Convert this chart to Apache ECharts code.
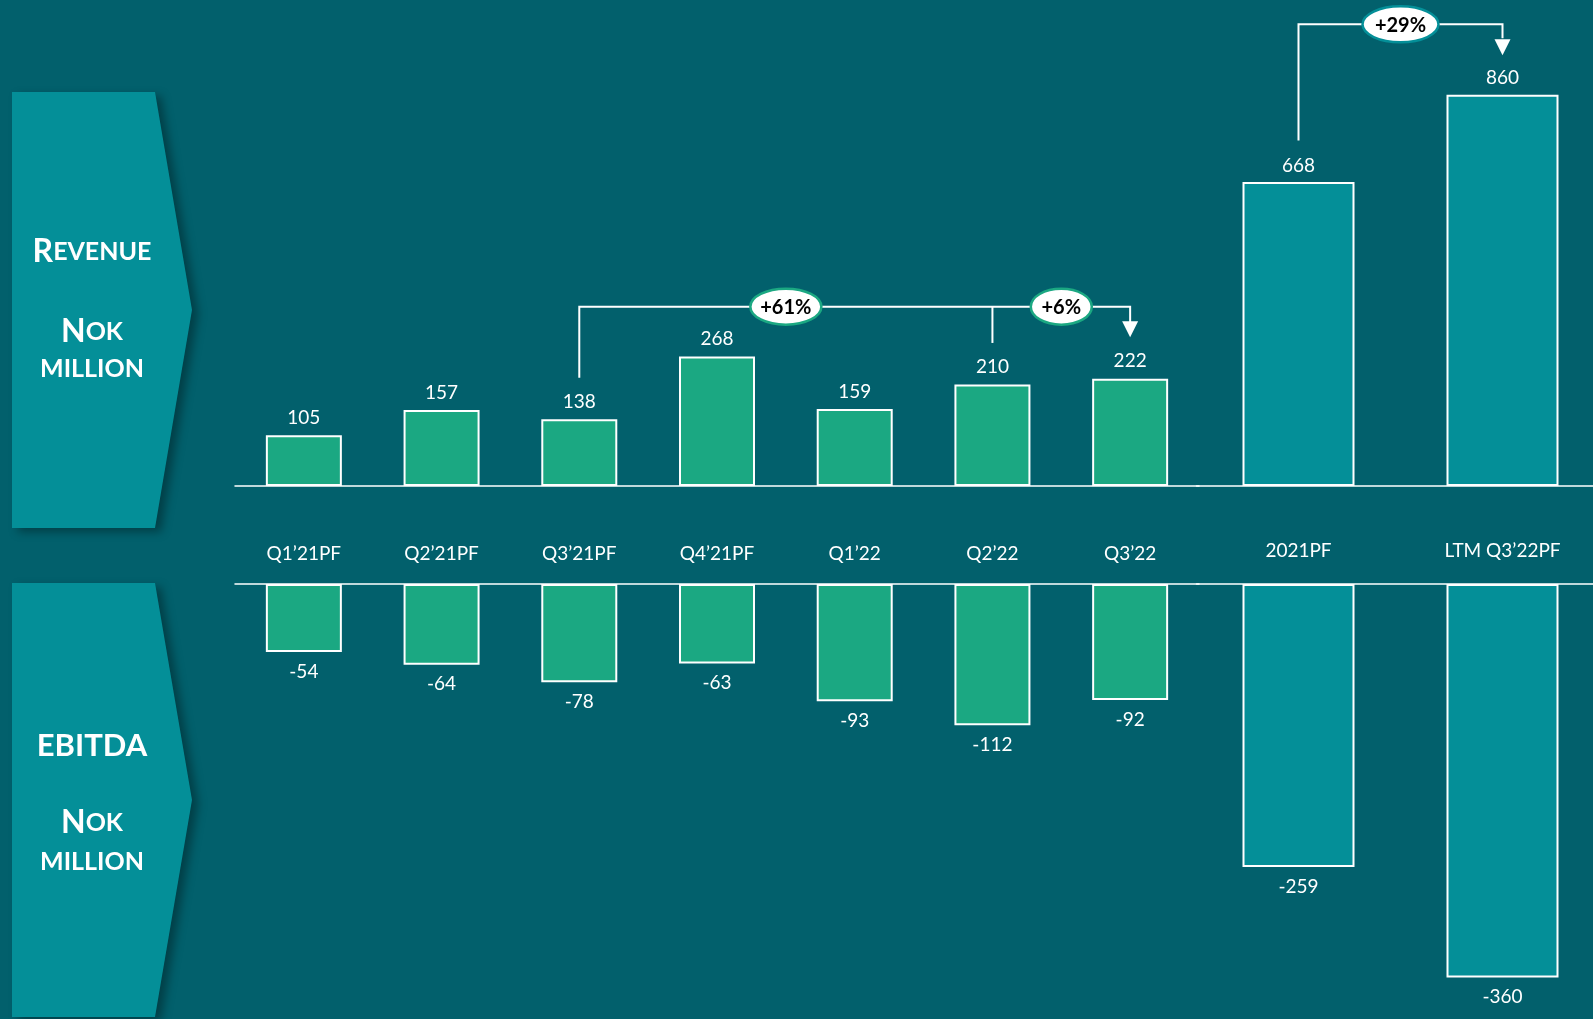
<!DOCTYPE html>
<html>
<head>
<meta charset="utf-8">
<script src="https://cdn.jsdelivr.net/npm/echarts@6/dist/echarts.min.js"></script>
<style>
  html, body { margin: 0; padding: 0; background: #02606c; }
  #main { width: 1593px; height: 1019px; }
</style>
</head>
<body>
<div id="main"></div>
<script type="text/javascript">
// data
var quarters = ['Q1’21PF', 'Q2’21PF', 'Q3’21PF', 'Q4’21PF', 'Q1’22', 'Q2’22', 'Q3’22'];
var years = ['2021PF', 'LTM Q3’22PF'];
var revenueQ = [105, 157, 138, 268, 159, 210, 222];
var revenueY = [668, 860];
var ebitdaQ = [-54, -64, -78, -63, -93, -112, -92];
var ebitdaY = [-259, -360];
var growthLabels = ['+61%', '+6%', '+29%'];

var BG = '#02606c', TEAL = '#048f98', GREEN = '#1ba882', FONT = 'Lato';

var chart = echarts.init(document.getElementById('main'));

function xAx(idx, data, pos, showLabel, margin) {
  return {
    type: 'category', gridIndex: idx, data: data, position: pos,
    axisTick: { show: false },
    axisLine: { onZero: false, lineStyle: { color: '#fff', width: 1.5 } },
    axisLabel: { show: showLabel, margin: margin, color: '#fff', fontFamily: FONT, fontSize: 19 },
    z: 5
  };
}
function yAx(idx, min, max) {
  return { type: 'value', gridIndex: idx, min: min, max: max, show: false, splitLine: { show: false } };
}
function barSeries(idx, data, color, width, pos, dist) {
  return {
    type: 'bar', xAxisIndex: idx, yAxisIndex: idx, data: data, barWidth: width,
    itemStyle: { color: color, borderColor: '#fff', borderWidth: 2 },
    label: { show: true, position: pos, distance: dist, color: '#fff', fontFamily: FONT, fontSize: 19 }
  };
}
function grid(left, top, width, height) {
  return { left: left, top: top, width: width, height: height, outerBoundsMode: 'none', containLabel: false };
}

var option = {
  backgroundColor: BG,
  animation: false,
  grid: [
    grid(235, 0, 964, 486),
    grid(1196.5, 0, 408, 486),
    grid(235, 584, 964, 435),
    grid(1196.5, 584, 408, 435)
  ],
  xAxis: [
    xAx(0, quarters, 'bottom', true, 58),
    xAx(1, years, 'bottom', true, 55),
    xAx(2, quarters, 'top', false, 0),
    xAx(3, years, 'top', false, 0)
  ],
  yAxis: [yAx(0, 0, 1005), yAx(1, 0, 1068), yAx(2, -345, 0), yAx(3, -398, 0)],
  series: [
    barSeries(0, revenueQ, GREEN, 76, 'top', 8),
    barSeries(1, revenueY, TEAL, 112, 'top', 7),
    barSeries(2, ebitdaQ, GREEN, 76, 'bottom', 10),
    barSeries(3, ebitdaY, TEAL, 112, 'bottom', 10)
  ]
};
chart.setOption(option);

// 左侧标题箭头
function panel(top, tip, bottom) {
  return {
    type: 'polygon', z: 1,
    shape: { points: [[12, top], [155, top], [192, tip], [155, bottom], [12, bottom]] },
    style: { fill: TEAL, shadowBlur: 10, shadowOffsetX: 6, shadowOffsetY: 4, shadowColor: 'rgba(0,0,0,0.35)' }
  };
}
function panelText(y, text) {
  return {
    type: 'text', z: 2, x: 92, y: y,
    style: {
      text: text, fill: '#fff', align: 'center', verticalAlign: 'middle',
      rich: {
        b: { fontFamily: FONT, fontWeight: 'bold', fontSize: 32, fill: '#fff', color: '#fff' },
        s: { fontFamily: FONT, fontWeight: 'bold', fontSize: 25, fill: '#fff', color: '#fff' },
        e: { fontFamily: FONT, fontWeight: 'bold', fontSize: 31, fill: '#fff', color: '#fff' }
      }
    }
  };
}

// 增长标注
function px(ax, cat, val) {
  return chart.convertToPixel({ xAxisIndex: ax, yAxisIndex: ax }, [cat, val]);
}
var GAP = 41.5;
function line(points) {
  return { type: 'polyline', z: 10, shape: { points: points }, style: { stroke: '#fff', lineWidth: 2, fill: null } };
}
function arrowHead(x, tipY) {
  return { type: 'polygon', z: 10, shape: { points: [[x - 8, tipY - 16], [x + 8, tipY - 16], [x, tipY]] }, style: { fill: '#fff' } };
}
function bubble(cx, cy, rx, text, stroke) {
  return [
    { type: 'ellipse', z: 11, shape: { cx: cx, cy: cy, rx: rx, ry: 18 }, style: { fill: '#fff', stroke: stroke, lineWidth: 2.5 } },
    { type: 'text', z: 12, x: cx, y: cy + 1, style: { text: text, fill: '#000', font: 'bold 20px Lato', align: 'center', verticalAlign: 'middle' } }
  ];
}

var a = px(0, quarters[2], revenueQ[2]);
var m = px(0, quarters[5], revenueQ[5]);
var b = px(0, quarters[6], revenueQ[6]);
var y1 = 306.7;
var c = px(1, years[0], revenueY[0]);
var d = px(1, years[1], revenueY[1]);
var y2 = 24.3;

var elems = [
  panel(92, 310, 528),
  panel(583, 800, 1017),
  panelText(252, '{b|R}{s|EVENUE}'),
  panelText(332, '{b|N}{s|OK}'),
  panelText(369, '{s|MILLION}'),
  panelText(746, '{e|EBITDA}'),
  panelText(823, '{b|N}{s|OK}'),
  panelText(862, '{s|MILLION}'),
  line([[a[0], a[1] - GAP], [a[0], y1], [b[0], y1], [b[0], b[1] - GAP - 15]]),
  line([[m[0], y1], [m[0], m[1] - GAP]]),
  arrowHead(b[0], b[1] - GAP),
  line([[c[0], c[1] - GAP], [c[0], y2], [d[0], y2], [d[0], d[1] - GAP - 15]]),
  arrowHead(d[0], d[1] - GAP + 2)
];
elems = elems.concat(
  bubble((a[0] + m[0]) / 2, y1, 35.5, growthLabels[0], GREEN),
  bubble((m[0] + b[0]) / 2, y1, 30.5, growthLabels[1], GREEN),
  bubble((c[0] + d[0]) / 2, y2, 38, growthLabels[2], TEAL)
);
chart.setOption({ graphic: { elements: elems } });
</script>
</body>
</html>
